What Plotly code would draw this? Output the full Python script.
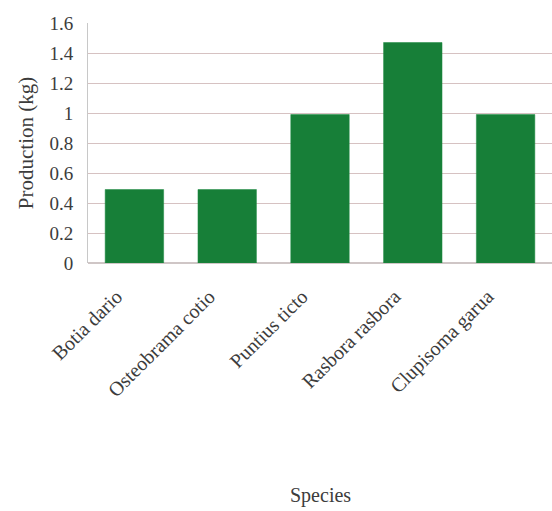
import plotly.graph_objects as go

species = ["Botia dario", "Osteobrama cotio", "Puntius ticto", "Rasbora rasbora", "Clupisoma garua"]
production_kg = [0.49, 0.49, 0.99, 1.47, 0.99]
y_ticks = [0, 0.2, 0.4, 0.6, 0.8, 1, 1.2, 1.4, 1.6]
y_tick_labels = ["0", "0.2", "0.4", "0.6", "0.8", "1", "1.2", "1.4", "1.6"]

serif = "Liberation Serif, Times New Roman, serif"
ink = "#3c3c3c"

fig = go.Figure(
    go.Bar(
        x=species,
        y=production_kg,
        marker=dict(color="#177f38", line=dict(color="#1d8a40", width=0.5)),
        width=0.63,
    )
)

fig.update_layout(
    width=552,
    height=511,
    margin=dict(l=88, r=0, t=23, b=248),
    paper_bgcolor="white",
    plot_bgcolor="white",
    showlegend=False,
    font=dict(family=serif, color=ink),
    xaxis=dict(
        tickangle=-45,
        tickfont=dict(size=20, family=serif, color=ink),
        showgrid=False,
        showline=False,
        ticks="",
        ticklabelstandoff=17,
        ticklabelshift=-18,
        range=[-0.5, 4.5],
    ),
    yaxis=dict(
        range=[0, 1.6],
        tickvals=y_ticks,
        ticktext=y_tick_labels,
        tickfont=dict(size=19, family=serif, color=ink),
        showgrid=True,
        gridcolor="#d6c2c2",
        gridwidth=1,
        zeroline=True,
        zerolinecolor="#cfc6c6",
        showline=True,
        linecolor="#c8c8c8",
        linewidth=1,
        ticks="",
        ticklabelstandoff=10,
        title=dict(text="Production (kg)", font=dict(size=21, family=serif, color=ink), standoff=10),
    ),
    annotations=[
        dict(
            text="Species",
            xref="paper", yref="paper",
            x=0.5, y=-0.97,
            xanchor="center", yanchor="middle",
            showarrow=False,
            font=dict(size=20, family=serif, color=ink),
        )
    ],
)

fig.write_html("out.html")
